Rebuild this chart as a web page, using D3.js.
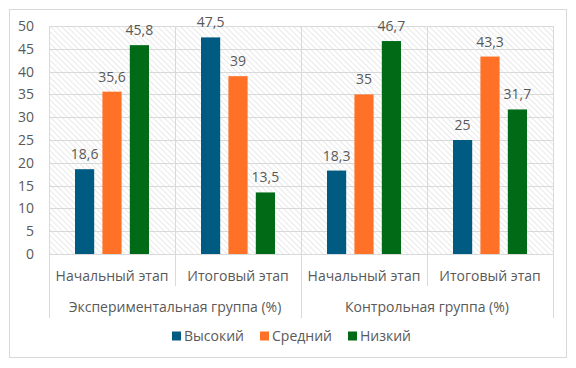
<!DOCTYPE html>
<html>
<head>
<meta charset="utf-8">
<script src="https://cdn.jsdelivr.net/npm/d3@7"></script>
<style>
  body { margin: 0; background: #fff; }
  text { font-family: "Open Sans", "Liberation Sans", sans-serif; fill: #595959; font-size: 14px; }
</style>
</head>
<body>
<svg width="576" height="368"></svg>
<script>
var groups = ["Экспериментальная группа (%)", "Контрольная группа (%)"];
var stages = ["Начальный этап", "Итоговый этап"];
var seriesNames = ["Высокий", "Средний", "Низкий"];
var colors = ["#005B82", "#FF7127", "#006A17"];
// one value per category (group x stage)
var high = [18.6, 47.5, 18.3, 25];
var mid = [35.6, 39, 35, 43.3];
var low = [45.8, 13.5, 46.7, 31.7];
var yTicks = [0, 5, 10, 15, 20, 25, 30, 35, 40, 45, 50];

var svg = d3.select("svg"),
  margin = { top: 26, left: 49, right: 23, bottom: 114 },
  width = 576 - margin.left - margin.right,
  height = 368 - margin.top - margin.bottom;

var defs = svg.append("defs");
var pat = defs.append("pattern")
  .attr("id", "hatch")
  .attr("patternUnits", "userSpaceOnUse")
  .attr("width", 4).attr("height", 4)
  .attr("patternTransform", "rotate(-45)");
pat.append("rect").attr("width", 4).attr("height", 4).attr("fill", "#fff");
pat.append("line").attr("x1", 0).attr("y1", 0).attr("x2", 0).attr("y2", 4)
  .attr("stroke", "#d4d4d4").attr("stroke-width", 1);

// outer chart border
svg.append("rect")
  .attr("x", 9.5).attr("y", 9.5).attr("width", 557).attr("height", 348)
  .attr("fill", "#fff").attr("stroke", "#d9d9d9");

var g = svg.append("g").attr("transform", "translate(" + margin.left + "," + margin.top + ")");

var cats = [];
groups.forEach(function(gr, gi) {
  stages.forEach(function(st) { cats.push({ group: gi, stage: st, i: cats.length }); });
});

var x0 = d3.scaleBand().domain(cats.map(function(d) { return d.i; })).range([0, width]);
var x1 = d3.scaleBand().domain(seriesNames).range([26, x0.bandwidth() - 26]).paddingInner(0.3);
var y = d3.scaleLinear().domain([0, 50]).range([height, 0]);

g.append("rect").attr("width", width).attr("height", height).attr("fill", "url(#hatch)");

// horizontal gridlines
g.selectAll(".hgrid").data(yTicks).enter().append("line")
  .attr("x1", 0).attr("x2", width)
  .attr("y1", function(d) { return Math.round(y(d)) + 0.5; })
  .attr("y2", function(d) { return Math.round(y(d)) + 0.5; })
  .attr("stroke", "#d9d9d9");

// vertical gridlines at category boundaries, extended down as axis separators
var bounds = d3.range(cats.length + 1).map(function(k) { return k * x0.step(); });
g.selectAll(".vgrid").data(bounds).enter().append("line")
  .attr("x1", function(d) { return Math.round(d) + 0.5; })
  .attr("x2", function(d) { return Math.round(d) + 0.5; })
  .attr("y1", 0)
  .attr("y2", function(d, k) { return k % 2 === 0 ? height + 64 : height + 32; })
  .attr("stroke", "#d9d9d9");

// y tick labels
g.selectAll(".ytick").data(yTicks).enter().append("text")
  .attr("x", -15).attr("y", function(d) { return y(d); })
  .attr("dy", "0.35em").attr("text-anchor", "end")
  .text(function(d) { return d; });

var seriesVals = [high, mid, low];
var bars = [];
cats.forEach(function(c) {
  seriesNames.forEach(function(s, si) { bars.push({ cat: c.i, s: s, si: si, v: seriesVals[si][c.i] }); });
});

g.selectAll(".bar").data(bars).enter().append("rect")
  .attr("x", function(d) { return x0(d.cat) + x1(d.s); })
  .attr("width", x1.bandwidth())
  .attr("y", function(d) { return y(d.v); })
  .attr("height", function(d) { return height - y(d.v); })
  .attr("fill", function(d) { return colors[d.si]; });

g.selectAll(".lbl").data(bars).enter().append("text")
  .attr("x", function(d) { return x0(d.cat) + x1(d.s) + x1.bandwidth() / 2; })
  .attr("y", function(d) { return y(d.v) - 10; })
  .attr("text-anchor", "middle")
  .text(function(d) { return String(d.v).replace(".", ","); });

// category labels
g.selectAll(".cat").data(cats).enter().append("text")
  .attr("x", function(d) { return x0(d.i) + x0.bandwidth() / 2; })
  .attr("y", height + 22)
  .attr("dy", "0.35em").attr("text-anchor", "middle")
  .text(function(d) { return d.stage; });

// group labels
g.selectAll(".grp").data(groups).enter().append("text")
  .attr("x", function(d, k) { return (k * 2 + 1) * x0.step(); })
  .attr("y", height + 53)
  .attr("dy", "0.35em").attr("text-anchor", "middle")
  .text(function(d) { return d; });

// legend
var legendX = [172, 260, 348];
var lg = svg.selectAll(".leg").data(seriesNames).enter().append("g")
  .attr("transform", function(d, k) { return "translate(" + legendX[k] + ",336)"; });
lg.append("rect").attr("x", 0).attr("y", -4.5).attr("width", 9).attr("height", 9)
  .attr("fill", function(d, k) { return colors[k]; });
lg.append("text").attr("x", 12).attr("y", 0).attr("dy", "0.35em")
  .text(function(d) { return d; });
</script>
</body>
</html>
